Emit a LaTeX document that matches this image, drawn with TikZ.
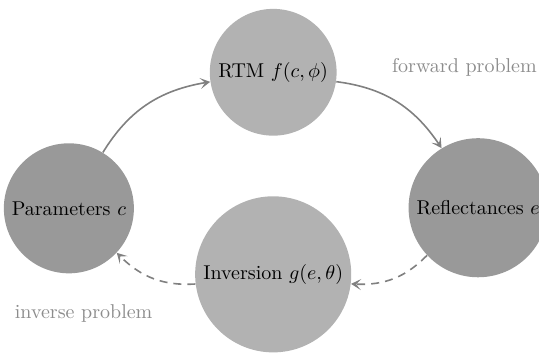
\documentclass[tikz,border=0pt]{standalone}
\usepackage{amsmath}
\usepackage{amssymb}
\usepackage{tikz}
\usetikzlibrary{shapes.geometric, arrows}
\usetikzlibrary{arrows.meta,bending}
\tikzstyle{arrow} = [thick,->,>={Stealth[length=5pt,width=5.5pt,inset=2.5pt]},draw=black!50]
\tikzstyle{dasharrow} = [arrow,dash pattern=on 4pt off 3pt]
\tikzstyle{lightnode} = [circle,fill=black!30]
\tikzstyle{darknode} = [circle,fill=black!40]
\tikzstyle{label} = [text=black!45]

\begin{document}
\begin{tikzpicture}
\useasboundingbox (0,0) rectangle (9.47,-6.22);

\node[lightnode] (rtm) at (4.80,-1.27) {RTM $f(c,\phi)$};
\node[darknode] (param) at (1.21,-3.66) {Parameters $c$};
\node[darknode] (refl) at (8.40,-3.65) {Reflectances $e$};
\node[lightnode] (inv) at (4.80,-4.82) {Inversion $g(e,\theta)$};

\node[label] (fwd) at (8.16,-1.18) {forward problem};
\node[label] (invp) at (1.47,-5.50) {inverse problem};

\draw[arrow] (param) to[bend left=25] (rtm);
\draw[arrow] (rtm) to[bend left=25] (refl);
\draw[dasharrow] (refl) to[bend left=25] (inv);
\draw[dasharrow] (inv) to[bend left=25] (param);
\end{tikzpicture}
\end{document}
